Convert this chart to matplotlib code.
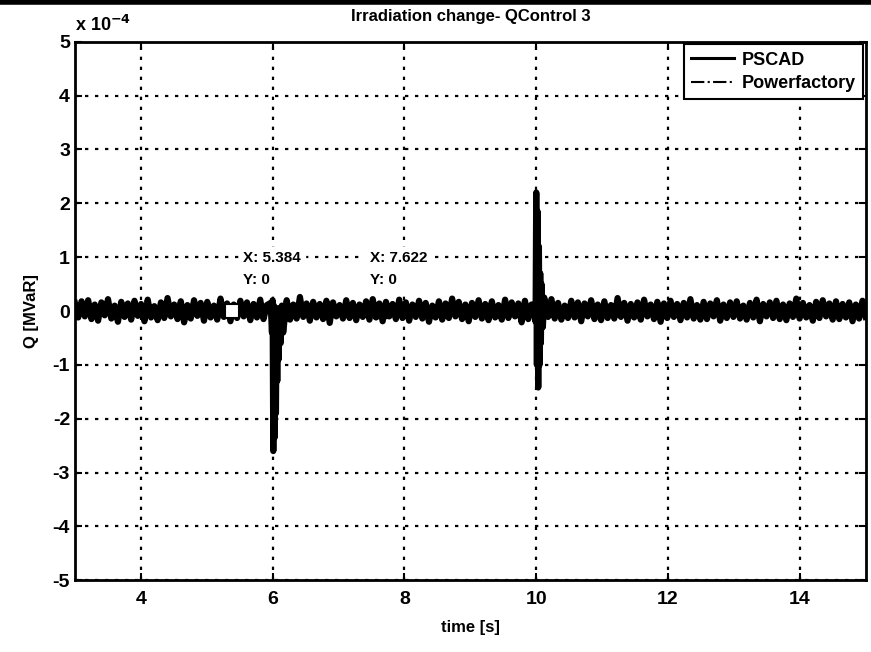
import numpy as np
import matplotlib
matplotlib.use('Agg')
from matplotlib import pyplot as plt
from matplotlib.lines import Line2D

plt.rcParams['font.family'] = ['Liberation Sans', 'DejaVu Sans']
plt.rcParams['font.weight'] = 'bold'

# Q in units of 1e-4 MVaR
noise_q = [
    0.15, -0.12, 0.18, -0.10, 0.20, -0.15, 0.12, -0.18, 0.16, -0.08,
    0.22, -0.14, 0.10, -0.20, 0.17, -0.11, 0.14, -0.16, 0.19, -0.09,
    0.13, -0.19, 0.21, -0.12, 0.09, -0.17, 0.16, -0.13, 0.24, -0.10,
    0.12, -0.15, 0.18, -0.21, 0.11, -0.14, 0.20, -0.09, 0.15, -0.18,
    0.17, -0.12, 0.10, -0.16, 0.23, -0.11, 0.14, -0.19, 0.12, -0.13,
    0.19, -0.10, 0.16, -0.17, 0.13, -0.12, 0.21, -0.15, 0.11, -0.20,
    0.18, -0.13, 0.15, -0.10, 0.20, -0.16, 0.12, -0.14, 0.26, -0.11,
    0.14, -0.18, 0.17, -0.12, 0.13, -0.15, 0.19, -0.22, 0.16, -0.10,
    0.11, -0.14, 0.20, -0.13, 0.15, -0.17, 0.12, -0.11, 0.18, -0.16,
    0.22, -0.12, 0.14, -0.19, 0.17, -0.10, 0.13, -0.15, 0.21, -0.13,
    0.16, -0.18, 0.12, -0.11, 0.19, -0.14, 0.15, -0.20, 0.10, -0.12,
    0.18, -0.16, 0.14, -0.13, 0.23, -0.10, 0.17, -0.15, 0.12, -0.19,
    0.15, -0.11, 0.20, -0.14, 0.13, -0.17, 0.18, -0.12, 0.11, -0.16,
    0.21, -0.13, 0.16, -0.10, 0.14, -0.21, 0.19, -0.15, 0.12, -0.12,
    0.17, -0.18, 0.13, -0.11, 0.22, -0.14, 0.15, -0.16, 0.10, -0.13,
    0.19, -0.12, 0.16, -0.19, 0.14, -0.10, 0.20, -0.15, 0.12, -0.17,
    0.18, -0.13, 0.11, -0.14, 0.24, -0.11, 0.15, -0.18, 0.13, -0.12,
    0.16, -0.16, 0.21, -0.10, 0.12, -0.15, 0.17, -0.20, 0.14, -0.13,
    0.19, -0.11, 0.13, -0.17, 0.15, -0.12, 0.22, -0.14, 0.11, -0.16,
    0.17, -0.15, 0.14, -0.10, 0.20, -0.18, 0.12, -0.13, 0.16, -0.11,
    0.18, -0.14, 0.10, -0.16, 0.15, -0.12, 0.21, -0.19, 0.13, -0.10,
    0.16, -0.13, 0.19, -0.15, 0.12, -0.17, 0.14, -0.11, 0.23, -0.14,
    0.15, -0.12, 0.11, -0.18, 0.17, -0.13, 0.20, -0.10, 0.14, -0.16,
    0.18, -0.15, 0.13, -0.12, 0.16, -0.19, 0.12, -0.14, 0.19, -0.11,
]
noise_t = np.linspace(3.0, 15.0, len(noise_q))

spike1_t = [5.97, 5.99, 6.00, 6.01, 6.02, 6.03, 6.04, 6.05, 6.06, 6.07,
            6.08, 6.09, 6.10, 6.12, 6.14, 6.16]
spike1_q = [0.15, -0.40, 0.20, -2.60, 0.10, -2.35, 0.05, -1.90, 0.00, -1.30,
            0.05, -0.90, 0.00, -0.60, 0.10, -0.40]

spike2_t = [9.97, 9.99, 10.00, 10.01, 10.02, 10.03, 10.04, 10.05, 10.06,
            10.07, 10.08, 10.10, 10.12]
spike2_q = [0.10, -0.20, 2.20, -1.00, 1.85, -1.42, 1.20, -1.00, 0.70,
            -0.60, 0.50, -0.30, 0.25]

pf_t = [3.0, 15.0]
pf_q = [0.0, 0.0]

tips_x = [5.384, 7.622]
tips_y = [0.0, 0.0]

# merge noise and spikes (drop noise samples inside spike windows)
keep = ~(((noise_t > 5.96) & (noise_t < 6.17)) | ((noise_t > 9.96) & (noise_t < 10.13)))
t_all = np.concatenate([noise_t[keep], spike1_t, spike2_t])
q_all = np.concatenate([np.array(noise_q)[keep], spike1_q, spike2_q])
order = np.argsort(t_all)
t_all, q_all = t_all[order], q_all[order]

fig = plt.figure(figsize=(8.71, 6.52), dpi=100)
ax = fig.add_axes([0.086, 0.110, 0.908, 0.826])

ax.plot(pf_t, pf_q, color='black', linestyle='-.', linewidth=1.5, label='Powerfactory')
ax.plot(t_all, q_all, color='black', linewidth=4.5, label='PSCAD')

# data tips
ax.plot(tips_x[0], tips_y[0], marker='s', markersize=10, markerfacecolor='white',
        markeredgecolor='black', markeredgewidth=1.5, zorder=5)
ax.plot(tips_x[1], tips_y[1], marker='s', markersize=10, color='black', zorder=5)
ax.text(5.55, 0.78, 'X: 5.384\nY: 0', fontsize=11, fontweight='bold', va='center',
        linespacing=1.7, zorder=6,
        bbox=dict(facecolor='white', edgecolor='white', pad=3))
ax.text(7.47, 0.78, 'X: 7.622\nY: 0', fontsize=11, fontweight='bold', va='center',
        linespacing=1.7, zorder=6,
        bbox=dict(facecolor='white', edgecolor='white', pad=3))

ax.set_xlim(3, 15)
ax.set_ylim(-5, 5)
ax.set_xticks([4, 6, 8, 10, 12, 14])
ax.set_yticks(range(-5, 6))
ax.set_yticklabels([str(v) for v in range(-5, 6)])
ax.tick_params(direction='in', labelsize=14, width=1.5, length=5,
               top=True, right=True)
ax.tick_params(axis='x', pad=8)
for lab in ax.get_xticklabels() + ax.get_yticklabels():
    lab.set_fontweight('bold')
ax.grid(True, color='black', linestyle=(0, (1.5, 3)), linewidth=1.6)
for sp in ax.spines.values():
    sp.set_linewidth(2)

ax.set_title('Irradiation change- QControl 3', fontsize=12, fontweight='bold', pad=15)
ax.set_xlabel('time [s]', fontsize=12, fontweight='bold', labelpad=8)
ax.set_ylabel('Q [MVaR]', fontsize=12, fontweight='bold', labelpad=10)
ax.text(0.0, 1.012, r'x 10$^{-4}$', transform=ax.transAxes, fontsize=13,
        fontweight='bold', ha='left', va='bottom')

leg = ax.legend(handles=[Line2D([], [], color='black', lw=2.2),
                         Line2D([], [], color='black', lw=1.5, linestyle='-.')],
                labels=['PSCAD', 'Powerfactory'], loc='upper right',
                fontsize=13, fancybox=False, framealpha=1, borderaxespad=0.15,
                handlelength=2.4, handletextpad=0.4, labelspacing=0.35,
                borderpad=0.4)
leg.get_frame().set_edgecolor('black')
leg.get_frame().set_linewidth(1.5)
for txt in leg.get_texts():
    txt.set_fontweight('bold')

# scan border line at top
fig.add_artist(Line2D([0, 1], [0.997, 0.997], color='black', lw=4,
                      transform=fig.transFigure))

fig.savefig('out.png', dpi=100)
